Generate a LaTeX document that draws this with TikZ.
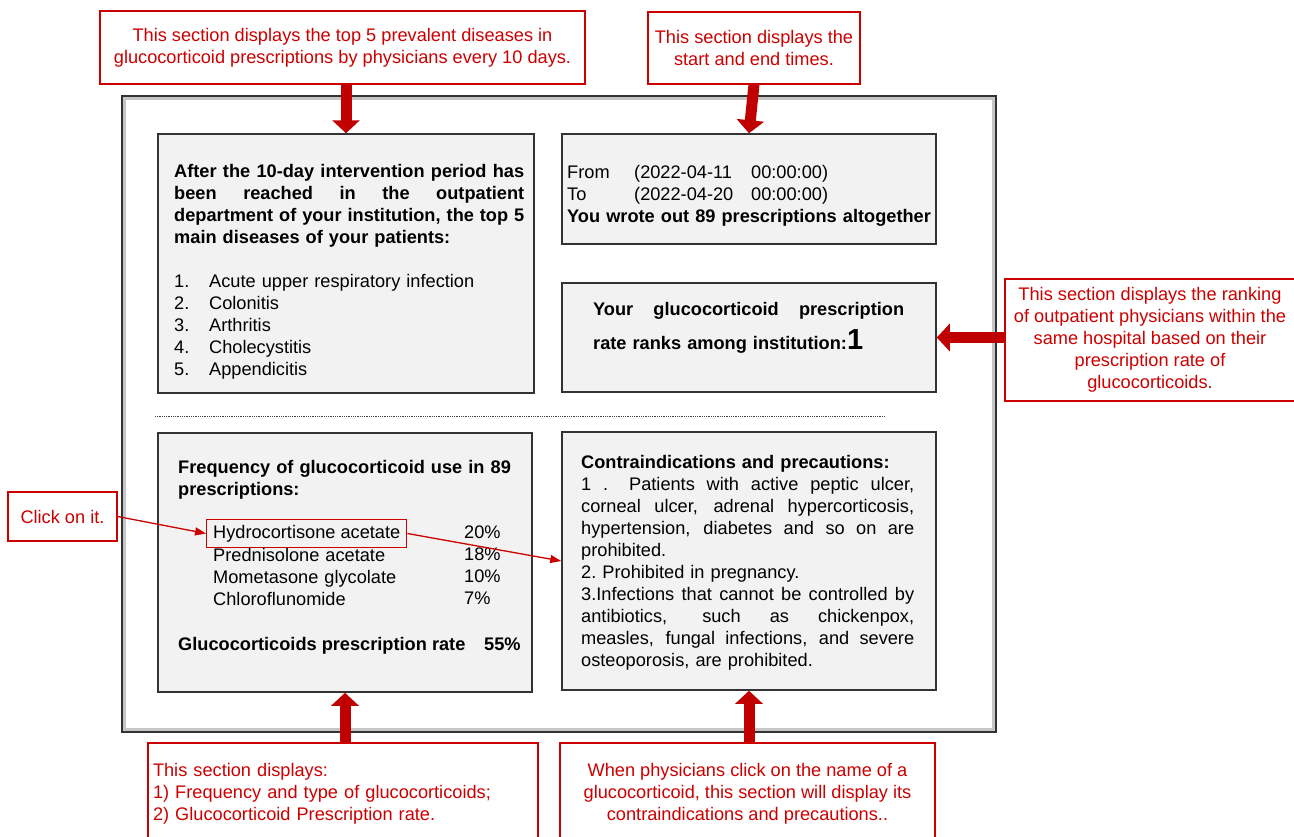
\documentclass[tikz,border=0pt]{standalone}
\usepackage{fontspec}
\setmainfont{Liberation Sans}
\usetikzlibrary{arrows.meta}
\definecolor{panelgray}{RGB}{242,242,242}
\definecolor{notered}{RGB}{204,0,0}
\definecolor{arrowred}{RGB}{192,0,0}
\newcommand{\fillrow}[2]{\makebox[#1][s]{\spaceskip=0.28em plus 1fil\relax #2}}

\begin{document}
\begin{tikzpicture}[x=1pt, y=-1pt,
    every node/.style = {font=\fontsize{18.2}{22}\selectfont},
    panel/.style = {draw=black!80, fill=panelgray, line width=1.5pt},
    txt/.style = {inner sep=0pt, align=left, anchor=north west},
    note/.style = {draw=notered, fill=white, text=notered, line width=1.3pt, align=center},
    pick/.style = {draw=notered, line width=1.3pt, inner xsep=6.5pt, inner ysep=0pt, minimum height=28pt, anchor=west},
    bigarrow/.style = {draw=arrowred, line width=11pt, -{Triangle[width=27pt,length=13pt]}},
    thinarrow/.style = {draw=notered, line width=1.3pt, -{Triangle[width=8pt,length=11pt]}}]
            \path[use as bounding box, fill=white] (0,0) rectangle (1294,836);
            % screen frame
            \node[draw=black!80, line width=2pt, minimum width=874pt, minimum height=636pt] (screen) at (559,414) {};
            \draw[gray!45, line width=3pt] ([shift={(3.5,3.5)}]screen.north west) rectangle ([shift={(-3.5,-3.5)}]screen.south east);
            % panels
            \node[panel, minimum width=376pt, minimum height=259pt] (diseases) at (346,263.5) {};
            \node[panel, minimum width=374pt, minimum height=110pt] (times) at (749,189) {};
            \node[panel, minimum width=374pt, minimum height=109pt] (rank) at (749,337.5) {};
            \node[panel, minimum width=374pt, minimum height=259pt] (freq) at (345,562.5) {};
            \node[panel, minimum width=374pt, minimum height=258pt] (contra) at (749,561) {};
            \draw[densely dotted, black!75, line width=0.8pt] (155,416) -- (885,416);
            % panel texts
            \node[txt, text width=350pt] (diseasestext) at (174,164) {{\bfseries
                \fillrow{350pt}{After the 10-day intervention period has}\\
                \fillrow{350pt}{been reached in the outpatient}\\
                \fillrow{350pt}{department of your institution, the top 5}\\
                main diseases of your patients:}\\[22pt]
                \makebox[35pt][l]{1.}Acute upper respiratory infection\\
                \makebox[35pt][l]{2.}Colonitis\\
                \makebox[35pt][l]{3.}Arthritis\\
                \makebox[35pt][l]{4.}Cholecystitis\\
                \makebox[35pt][l]{5.}Appendicitis};
            \node[txt, text width=368pt] (timestext) at (567,165) {\makebox[67pt][l]{From}\makebox[117pt][l]{(2022-04-11}00:00:00)\\
                \makebox[67pt][l]{To}\makebox[117pt][l]{(2022-04-20}00:00:00)\\
                {\bfseries You wrote out 89 prescriptions altogether}};
            \node[txt, text width=311pt] (ranktext) at (593,302) {{\bfseries
                \fillrow{311pt}{Your glucocorticoid prescription}\\[9pt]
                rate ranks among institution:{\fontsize{29}{29}\selectfont 1}}};
            \node[txt, text width=345pt] (freqhead) at (178,460) {{\bfseries Frequency of glucocorticoid use in 89\\prescriptions:}};
            \node[pick] (hydro) at (206,533.5) {Hydrocortisone acetate};
            \node[txt, text width=240pt] (others) at (213,548) {Prednisolone acetate\\Mometasone glycolate\\Chloroflunomide};
            \node[txt, text width=60pt] (shares) at (464,526) {20\%\\18\%\\10\%\\7\%};
            \node[txt, anchor=base west] (ratio) at (178,650) {\bfseries\makebox[306pt][l]{Glucocorticoids prescription rate}55\%};
            \node[txt, text width=333pt] (contratext) at (581,455) {{\bfseries Contraindications and precautions:}\\
                \fillrow{333pt}{1 . \ Patients with active peptic ulcer,}\\
                \fillrow{333pt}{corneal ulcer, adrenal hypercorticosis,}\\
                \fillrow{333pt}{hypertension, diabetes and so on are}\\
                prohibited.\\
                2.\ Prohibited in pregnancy.\\
                \fillrow{333pt}{3.Infections that cannot be controlled by}\\
                \fillrow{333pt}{antibiotics, such as chickenpox,}\\
                \fillrow{333pt}{measles, fungal infections, and severe}\\
                osteoporosis, are prohibited.};
            % notes
            \node[note, minimum width=485pt, minimum height=73pt] (note1) at (342.5,47.5) {This section displays the top 5 prevalent diseases in\\glucocorticoid prescriptions by physicians every 10 days.};
            \node[note, minimum width=212pt, minimum height=72pt] (note2) at (754,48) {This section displays the\\start and end times.};
            \node[note, minimum width=290pt, minimum height=122pt] (note3) at (1150,340) {This section displays the ranking\\of outpatient physicians within the\\same hospital based on their\\prescription rate of\\glucocorticoids.};
            \node[note, minimum width=109pt, minimum height=49pt] (note4) at (62.5,516.5) {Click on it.};
            \node[note, align=left, text width=380pt, inner xsep=5pt, minimum height=101pt] (note5) at (343,793.5) {This section displays:\\1) Frequency and type of glucocorticoids;\\2) Glucocorticoid Prescription rate.};
            \node[note, minimum width=375pt, minimum height=101pt] (note6) at (747.5,793.5) {When physicians click on the name of a\\glucocorticoid, this section will display its\\contraindications and precautions..};
            \draw[bigarrow] (note1.south -| diseases.north) -- (diseases.north);
                \draw[bigarrow] (note2.south) -- (times.north);
                \draw[bigarrow] (note3.west |- rank.east) -- (rank.east);
                \draw[bigarrow] (note5.north -| freq.south) -- (freq.south);
                \draw[bigarrow] (note6.north -| contra.south) -- (contra.south);
                \draw[thinarrow] (note4.east) -- (hydro.west);
                \draw[thinarrow] (hydro.east) -- (contra.west);
        \end{tikzpicture}
\end{document}
